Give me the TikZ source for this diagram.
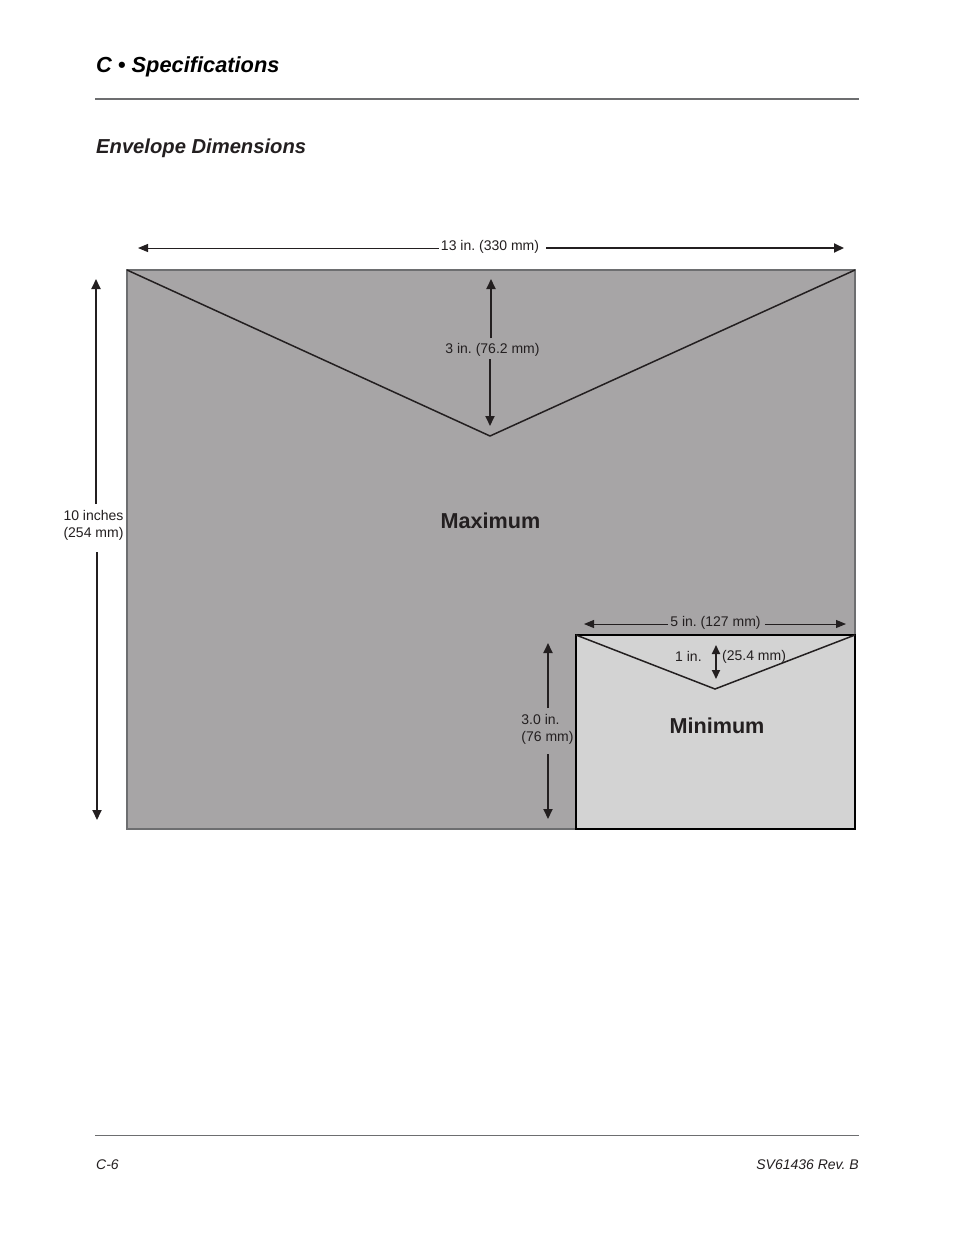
\documentclass[tikz,border=0pt]{standalone}
\usepackage{fontspec}
\setmainfont{Liberation Sans}
\frenchspacing
\usetikzlibrary{arrows.meta}
\definecolor{maxgray}{HTML}{A7A5A6}
\definecolor{mingray}{HTML}{D3D3D3}
\definecolor{inkblack}{HTML}{231F20}
\definecolor{rulegray}{HTML}{6D6E70}
\tikzset{
  dimline/.style={draw=inkblack, line width=1.8pt, -{Triangle[length=10pt,width=9pt]}},
  thinline/.style={draw=inkblack, line width=1pt, -{Triangle[length=10pt,width=8pt]}},
  dimtext/.style={text=inkblack, font=\fontsize{14}{17}\selectfont, inner sep=2pt},
  bigtext/.style={text=inkblack, font=\fontsize{21.6}{26}\selectfont\bfseries, inner sep=0pt},
  flap/.style={draw=inkblack, line width=1.5pt, line join=miter},
  pagerule/.style={draw=rulegray, line width=1.3pt}
}
\begin{document}
\begin{tikzpicture}[x=1pt,y=-1pt]
\useasboundingbox (0,0) rectangle (954,1235);
\fill[white] (0,0) rectangle (954,1235);

% page head and foot
\node[anchor=base west, inner sep=0pt, text=black, font=\fontsize{21.8}{26}\selectfont\bfseries\itshape] (chapter) at (96,72) {C • Specifications};
\node[anchor=base west, inner sep=0pt, text=inkblack, font=\fontsize{20.2}{24}\selectfont\bfseries\itshape] (section) at (96,153) {Envelope Dimensions};
\draw[pagerule] (95,99) -- (859,99);
\draw[pagerule, line width=1pt] (95,1135) -- (859,1135);
\node[anchor=base west, inner sep=0pt, text=inkblack, font=\fontsize{14}{16}\selectfont\itshape] (pagenum) at (96,1169) {C-6};
\node[anchor=base east, inner sep=0pt, text=inkblack, font=\fontsize{14}{16}\selectfont\itshape] (docnum) at (859,1169) {SV61436 Rev. B};

% maximum envelope
\filldraw[fill=maxgray, draw=rulegray, line width=2pt] (127,270) rectangle (855,829);
\coordinate (maxleft) at (127,270);
\coordinate (maxright) at (855,270);
\coordinate (maxtip) at (490,436);
\draw[flap] (maxleft) -- (maxtip) -- (maxright);
\node[bigtext] (maximum) at (490.5,520.5) {Maximum};

% minimum envelope
\filldraw[fill=mingray, draw=black, line width=2pt] (576,635) rectangle (855,829);
\coordinate (minleft) at (576,635);
\coordinate (minright) at (855,635);
\coordinate (mintip) at (715,689);
\draw[flap] (minleft) -- (mintip) -- (minright);
\node[bigtext] (minimum) at (717,725.5) {Minimum};

% width of maximum
\node[dimtext] (widthmax) at (490,247) {13 in. (330 mm)};
\coordinate (widthmaxa) at (138,248);
\coordinate (widthmaxb) at (844,248);
\draw[thinline] (widthmax.west |- widthmaxa) -- (widthmaxa);
\draw[dimline] ([xshift=5pt]widthmax.east |- widthmaxb) -- (widthmaxb);

% height of maximum
\node[dimtext, align=center] (heightmax) at (93.5,525) {10 inches\\(254 mm)};
\coordinate (heightmaxa) at (96,279);
\coordinate (heightmaxb) at (97,820);
\draw[dimline] (96,504) -- (heightmaxa);
\draw[dimline] (97,552) -- (heightmaxb);

% flap of maximum
\node[dimtext] (flapmax) at (492.5,350) {3 in. (76.2 mm)};
\coordinate (flapmaxa) at (491,279);
\coordinate (flapmaxb) at (490,426);
\draw[dimline] (491,338) -- (flapmaxa);
\draw[dimline] (490,359) -- (flapmaxb);

% width of minimum
\node[dimtext] (widthmin) at (715.5,623) {5 in. (127 mm)};
\coordinate (widthmina) at (584,624);
\coordinate (widthminb) at (846,624);
\draw[thinline] (widthmin.west |- widthmina) -- (widthmina);
\draw[thinline] ([xshift=2pt]widthmin.east |- widthminb) -- (widthminb);

% height of minimum
\node[dimtext, align=left] (heightmin) at (547.5,729.5) {3.0 in.\\(76 mm)};
\coordinate (heightmina) at (548,643);
\coordinate (heightminb) at (548,819);
\draw[dimline] (548,708) -- (heightmina);
\draw[dimline] (548,754) -- (heightminb);

% flap of minimum
\node[dimtext, anchor=west, inner sep=0pt] (flapmina) at (675,656) {1 in.};
\node[dimtext, anchor=west, inner sep=0pt] (flapminb) at (722,657) {(25.4 mm)};
\coordinate (flapmintop) at (716,645);
\coordinate (flapminbot) at (716,679);
\draw[draw=inkblack, line width=1.8pt, {Triangle[length=9pt,width=8pt]}-{Triangle[length=9pt,width=8pt]}] (flapmintop) -- (flapminbot);
\end{tikzpicture}
\end{document}
